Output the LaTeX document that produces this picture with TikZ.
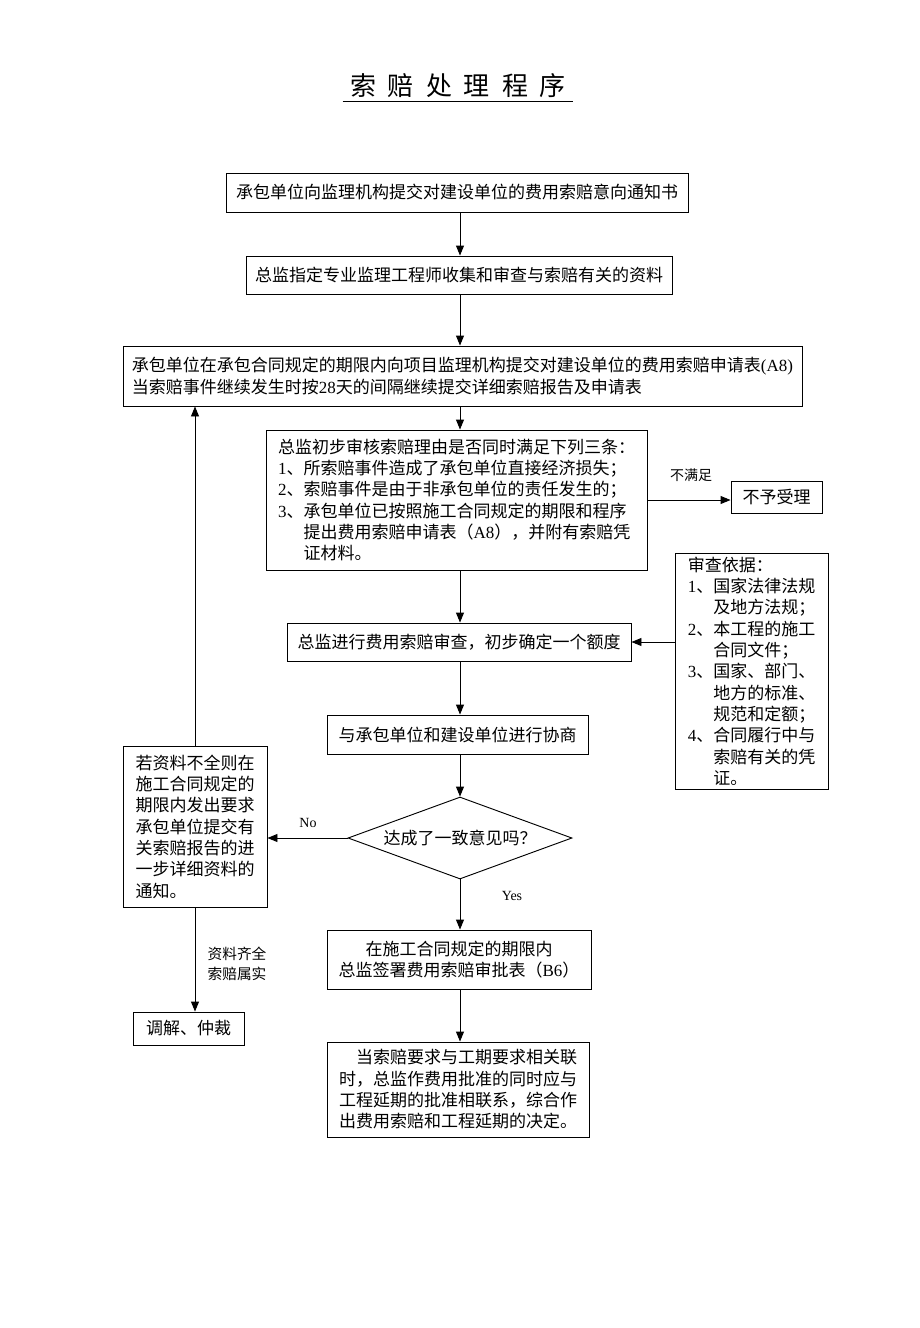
\documentclass[tikz,border=0pt]{standalone}
\usepackage{fontspec}
\setmainfont{Noto Sans CJK SC}
\newfontfamily\tm{Liberation Serif}
\usetikzlibrary{arrows.meta,shapes.geometric}
\newdimen\px
\px=0.75pt

\begin{document}
\begin{tikzpicture}[x=0.75pt,y=-0.75pt,line width=0.7pt,
    box/.style={draw,inner sep=0pt,align=center,font=\fontsize{12.75}{16}\selectfont},
    decision/.style={box,diamond,aspect=2.7},
    lab/.style={inner sep=0pt,font=\fontsize{10.5}{13}\selectfont},
    >={Triangle[length=7.5pt,width=6pt]}]
  \useasboundingbox (0,0) rectangle (920,1328);
  \node[inner sep=0pt,inner ysep=2pt,minimum width=230\px,font=\fontsize{19.5}{24}\selectfont] (title) at (458,86)
    {索\hspace{9pt}赔\hspace{9pt}处\hspace{9pt}理\hspace{9pt}程\hspace{9pt}序};
  \draw (title.south west) -- (title.south east);

  \node[box,minimum width=462\px,minimum height=39\px] (notice) at (457,192.5) {承包单位向监理机构提交对建设单位的费用索赔意向通知书};
  \node[box,minimum width=426\px,minimum height=38\px] (collect) at (459,275) {总监指定专业监理工程师收集和审查与索赔有关的资料};
  \node[box,align=left,minimum width=679\px,minimum height=60\px] (apply) at (462.5,376)
    {承包单位在承包合同规定的期限内向项目监理机构提交对建设单位的费用索赔申请表{\tm(A8)}\\
     当索赔事件继续发生时按{\tm 28}天的间隔继续提交详细索赔报告及申请表};
  \node[box,align=left,minimum width=381\px,minimum height=140\px] (check) at (456.5,500)
    {总监初步审核索赔理由是否同时满足下列三条：\\
     {\tm 1}、所索赔事件造成了承包单位直接经济损失；\\
     {\tm 2}、索赔事件是由于非承包单位的责任发生的；\\
     {\tm 3}、承包单位已按照施工合同规定的期限和程序\\
     \hphantom{{\tm 3}、}提出费用索赔申请表（{\tm A8}），并附有索赔凭\\
     \hphantom{{\tm 3}、}证材料。};
  \node[box,minimum width=91\px,minimum height=32\px] (reject) at (776.5,497) {不予受理};
  \node[box,minimum width=344\px,minimum height=38\px] (review) at (459,642) {总监进行费用索赔审查，初步确定一个额度};
  \node[box,align=left,minimum width=153\px,minimum height=236\px] (basis) at (751.5,671)
    {审查依据：\\
     {\tm 1}、国家法律法规\\
     \hphantom{{\tm 1}、}及地方法规；\\
     {\tm 2}、本工程的施工\\
     \hphantom{{\tm 2}、}合同文件；\\
     {\tm 3}、国家、部门、\\
     \hphantom{{\tm 3}、}地方的标准、\\
     \hphantom{{\tm 3}、}规范和定额；\\
     {\tm 4}、合同履行中与\\
     \hphantom{{\tm 4}、}索赔有关的凭\\
     \hphantom{{\tm 4}、}证。};
  \node[box,minimum width=261\px,minimum height=39\px] (negotiate) at (457.5,734.5) {与承包单位和建设单位进行协商};
  \node[decision,minimum width=224\px,minimum height=82\px] (agree) at (460,838) {达成了一致意见吗？};
  \node[box,align=left,minimum width=144\px,minimum height=161\px] (supplement) at (195,826.5)
    {若资料不全则在\\施工合同规定的\\期限内发出要求\\承包单位提交有\\关索赔报告的进\\一步详细资料的\\通知。};
  \node[box,minimum width=111\px,minimum height=33\px] (arbitrate) at (188.5,1028.5) {调解、仲裁};
  \node[box,minimum width=264\px,minimum height=59\px] (approve) at (459,959.5)
    {在施工合同规定的期限内\\总监签署费用索赔审批表（{\tm B6}）};
  \node[box,align=left,minimum width=262\px,minimum height=95\px] (decide) at (458,1089.5)
    {\hspace*{1em}当索赔要求与工期要求相关联\\时，总监作费用批准的同时应与\\工程延期的批准相联系，综合作\\出费用索赔和工程延期的决定。};

  \node[lab] (unmet) at (691,475) {不满足};
  \node[lab,font=\tm\fontsize{10.5}{13}\selectfont] (nolab) at (308,823) {No};
  \node[lab,font=\tm\fontsize{10.5}{13}\selectfont] (yeslab) at (512,896) {Yes};
  \node[lab,align=left,font=\fontsize{11}{15}\selectfont] (complete) at (237,964) {资料齐全\\索赔属实};

  \draw[->] (notice.south -| agree) -- (collect.north -| agree);
  \draw[->] (collect.south -| agree) -- (apply.north -| agree);
  \draw[->] (apply.south -| agree) -- (check.north -| agree);
  \draw[->] (check.east) -- (check.east -| reject.west);
  \draw[->] (check.south -| agree) -- (review.north -| agree);
  \draw[->] (basis.west |- review) -- (review.east);
  \draw[->] (review.south -| agree) -- (negotiate.north -| agree);
  \draw[->] (negotiate.south -| agree) -- (agree.north);
  \draw[->] (agree.west) -- (agree.west -| supplement.east);
  \draw[->] (supplement.north) -- (supplement.north |- apply.south);
  \draw[->] (supplement.south) -- (supplement.south |- arbitrate.north);
  \draw[->] (agree.south) -- (approve.north -| agree);
  \draw[->] (approve.south -| agree) -- (decide.north -| agree);
\end{tikzpicture}
\end{document}
